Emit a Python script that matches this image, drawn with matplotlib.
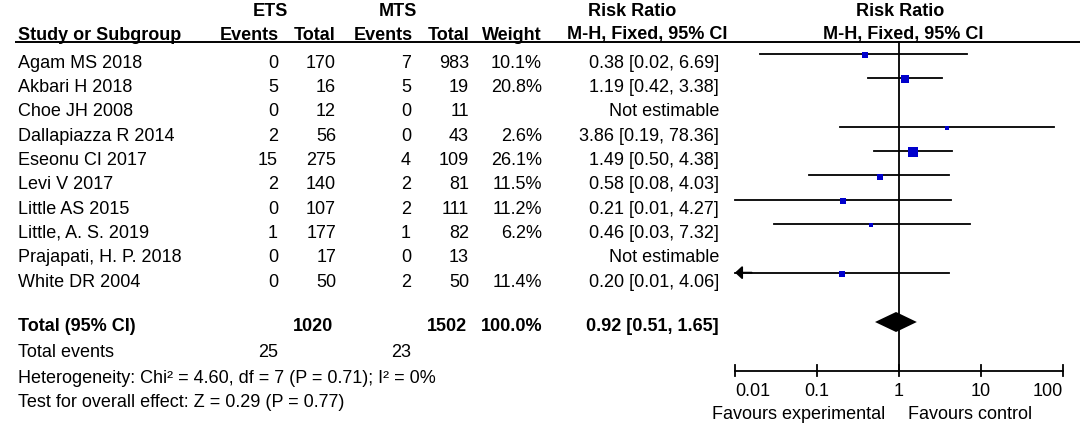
import numpy as np
import matplotlib
matplotlib.use("Agg")
import matplotlib.pyplot as plt

studies = ["Agam MS 2018", "Akbari H 2018", "Choe JH 2008", "Dallapiazza R 2014",
           "Eseonu CI 2017", "Levi V 2017", "Little AS 2015", "Little, A. S. 2019",
           "Prajapati, H. P. 2018", "White DR 2004"]
ets_events = [0, 5, 0, 2, 15, 2, 0, 1, 0, 0]
ets_total = [170, 16, 12, 56, 275, 140, 107, 177, 17, 50]
mts_events = [7, 5, 0, 0, 4, 2, 2, 1, 0, 2]
mts_total = [983, 19, 11, 43, 109, 81, 111, 82, 13, 50]
weight = [10.1, 20.8, None, 2.6, 26.1, 11.5, 11.2, 6.2, None, 11.4]
rr = [0.38, 1.19, None, 3.86, 1.49, 0.58, 0.21, 0.46, None, 0.20]
lo = [0.02, 0.42, None, 0.19, 0.50, 0.08, 0.01, 0.03, None, 0.01]
hi = [6.69, 3.38, None, 78.36, 4.38, 4.03, 4.27, 7.32, None, 4.06]
arrow_left = [False, False, False, False, False, False, False, False, False, True]

total_ets, total_mts = 1020, 1502
pooled = (0.92, 0.51, 1.65)
events_ets, events_mts = 25, 23
het_text = "Heterogeneity: Chi² = 4.60, df = 7 (P = 0.71); I² = 0%"
test_text = "Test for overall effect: Z = 0.29 (P = 0.77)"
ticks = [0.01, 0.1, 1, 10, 100]
tick_labels = ["0.01", "0.1", "1", "10", "100"]

W, H = 1084, 427
plt.rcParams['font.family'] = ['Liberation Sans', 'DejaVu Sans']
fs = 13
fig = plt.figure(figsize=(W / 100, H / 100), dpi=100)
fig.patch.set_facecolor("white")

# text layer in pixel coordinates
ax = fig.add_axes([0, 0, 1, 1])
ax.set_xlim(0, W)
ax.set_ylim(H, 0)
ax.axis("off")

# forest plot layer: log x, pixel y
x0, x1 = 735, 1063
fx = fig.add_axes([x0 / W, 0, (x1 - x0) / W, 1])
fx.set_xscale("log")
fx.set_xlim(0.01, 100)
fx.set_ylim(H, 0)
fx.axis("off")

bold = dict(fontsize=fs, fontweight="bold", va="center")
norm = dict(fontsize=fs, va="center")

# column right edges
c_name, c_ee, c_et, c_me, c_mt, c_w, c_rr = 18, 278, 336, 411, 469, 542, 719

# headers
ax.text(270, 12, "ETS", ha="center", **bold)
ax.text(398, 12, "MTS", ha="center", **bold)
ax.text(632, 12, "Risk Ratio", ha="center", **bold)
ax.text(900, 12, "Risk Ratio", ha="center", **bold)
ax.text(c_name, 35, "Study or Subgroup", ha="left", **bold)
ax.text(c_ee + 1, 35, "Events", ha="right", **bold)
ax.text(c_et, 35, "Total", ha="right", **bold)
ax.text(c_me + 2, 35, "Events", ha="right", **bold)
ax.text(c_mt, 35, "Total", ha="right", **bold)
ax.text(c_w, 35, "Weight", ha="right", **bold)
ax.text(647, 35, "M-H, Fixed, 95% CI", ha="center", **bold)
ax.text(903, 35, "M-H, Fixed, 95% CI", ha="center", **bold)
ax.plot([15, 1080], [42.5, 42.5], color="black", lw=1.4, solid_capstyle="butt")

row0, dy = 63, 24.35
ys = [row0 + i * dy for i in range(len(studies))]
for i, y in enumerate(ys):
    ax.text(c_name, y, studies[i], ha="left", **norm)
    ax.text(c_ee, y, str(ets_events[i]), ha="right", **norm)
    ax.text(c_et, y, str(ets_total[i]), ha="right", **norm)
    ax.text(c_me, y, str(mts_events[i]), ha="right", **norm)
    ax.text(c_mt, y, str(mts_total[i]), ha="right", **norm)
    if weight[i] is None:
        ax.text(c_rr, y, "Not estimable", ha="right", **norm)
        continue
    ax.text(c_w, y, f"{weight[i]:.1f}%", ha="right", **norm)
    ax.text(c_rr, y, f"{rr[i]:.2f} [{lo[i]:.2f}, {hi[i]:.2f}]", ha="right", **norm)
    yl = y - 8.5
    fx.plot([lo[i], hi[i]], [yl, yl], color="black", lw=1.3, clip_on=False)
    if arrow_left[i]:
        fx.annotate("", xy=(lo[i], yl), xytext=(lo[i] * 1.6, yl),
                    arrowprops=dict(arrowstyle="-|>,head_length=0.3,head_width=0.28",
                                    color="black", lw=1.3, mutation_scale=14,
                                    shrinkA=0, shrinkB=0),
                    annotation_clip=False)
    px = max(4.0, 1.95 * np.sqrt(weight[i]))
    fx.plot(rr[i], yl + 1.5, marker="s", ms=px * 0.72, color="#0000CC",
            markeredgewidth=0, clip_on=False)

yt = 327
ax.text(c_name, yt, "Total (95% CI)", ha="left", **bold)
ax.text(333, yt, str(total_ets), ha="right", **bold)
ax.text(467, yt, str(total_mts), ha="right", **bold)
ax.text(c_w, yt, "100.0%", ha="right", **bold)
ax.text(c_rr, yt, f"{pooled[0]:.2f} [{pooled[1]:.2f}, {pooled[2]:.2f}]", ha="right", **bold)
yd = 323
fx.fill([pooled[1], pooled[0], pooled[2], pooled[0]], [yd, yd - 10, yd, yd + 10],
        color="black", lw=0, clip_on=False)

ax.text(c_name, 353, "Total events", ha="left", **norm)
ax.text(c_ee, 353, str(events_ets), ha="right", **norm)
ax.text(c_me, 353, str(events_mts), ha="right", **norm)
ax.text(c_name, 379, het_text, ha="left", **norm)
ax.text(c_name, 403, test_text, ha="left", **norm)

# vertical line of no effect and axis
ya = 371.5
fx.plot([1, 1], [42.5, ya], color="black", lw=1.3, clip_on=False)
fx.plot([ticks[0], ticks[-1]], [ya, ya], color="black", lw=1.3, clip_on=False)
for k, (t, lab) in enumerate(zip(ticks, tick_labels)):
    fx.plot([t, t], [ya - 6, ya + 5], color="black", lw=1.3, clip_on=False)
    ha = "left" if k == 0 else ("right" if k == len(ticks) - 1 else "center")
    fx.text(t, 392, lab, ha=ha, va="center", fontsize=fs)
ax.text(885, 415, "Favours experimental", ha="right", va="center", fontsize=fs)
ax.text(908, 415, "Favours control", ha="left", va="center", fontsize=fs)

fig.savefig("out.png", dpi=100, facecolor="white")
